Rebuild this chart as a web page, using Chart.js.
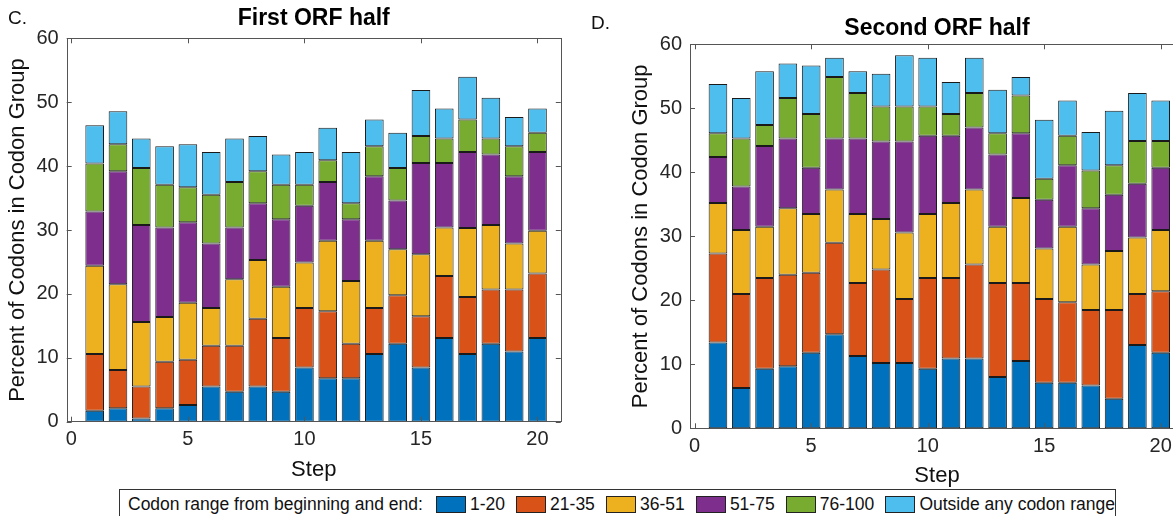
<!DOCTYPE html>
<html>
<head>
<meta charset="utf-8">
<title>Codon group composition by step</title>
<script src="https://cdn.jsdelivr.net/npm/chart.js@4.4.1/dist/chart.umd.min.js"></script>
<style>
  html, body { margin: 0; padding: 0; background: #fff; overflow: hidden; }
  #wrap {
    position: relative; width: 1173px; height: 516px; overflow: hidden;
    font-family: "Liberation Sans", Arial, sans-serif; color: #111;
  }
  .panel { position: absolute; top: 0; }
  #panelC { left: 0; }
  #panelD { left: 623px; }
  .tag { position: absolute; font-size: 19px; color: #111; }
  #legend {
    position: absolute; left: 119px; top: 489px; width: 997px; height: 30px;
    border: 1px solid #333; box-sizing: border-box; background: #fff;
    display: flex; align-items: center; padding-left: 8px;
    font-size: 17.5px; white-space: nowrap; color: #111;
  }
  #legend .sw {
    display: inline-block; width: 29px; height: 15px; border: 1px solid #222;
    margin: 0 4px 0 11px;
  }
  #legend .lead { margin-right: 2px; }
</style>
</head>
<body>
<div id="wrap">
  <canvas id="panelC" class="panel" width="600" height="490"></canvas>
  <canvas id="panelD" class="panel" width="600" height="490"></canvas>
  <div class="tag" style="left:8px; top:7px;">C.</div>
  <div class="tag" style="left:591px; top:12px;">D.</div>
  <div id="legend"></div>
</div>

<script>
/* ── data ─────────────────────────────────────────────────────── */
const steps  = [1, 2, 3, 4, 5, 6, 7, 8, 9, 10, 11, 12, 13, 14, 15, 16, 17, 18, 19, 20];
const xTicks = [0, 5, 10, 15, 20];
const yTicks = [0, 10, 20, 30, 40, 50, 60];

const seriesLabels = ["1-20", "21-35", "36-51", "51-75", "76-100", "Outside any codon range"];
const seriesColors = ["#0072BD", "#D95319", "#EDB120", "#7E2F8E", "#77AC30", "#4DBEEE"];

// first ORF half, percent per codon group
const first1to20    = [1.7, 2.1, 0.5, 2.1, 2.6, 5.5, 4.7, 5.5, 4.7, 8.5, 6.8, 6.8, 10.6, 12.2, 8.5, 13.1, 10.6, 12.2, 11.0, 13.1];
const first21to35   = [8.9, 6.0, 5.0, 7.3, 7.1, 6.4, 7.2, 10.6, 8.4, 9.3, 10.5, 5.4, 7.2, 7.6, 8.0, 9.7, 8.9, 8.5, 9.7, 10.1];
const first36to51   = [13.8, 13.4, 10.1, 7.0, 8.9, 5.9, 10.4, 9.2, 8.0, 7.1, 11.0, 9.8, 10.5, 7.2, 9.7, 7.6, 10.8, 10.1, 7.2, 6.7];
const first51to75   = [8.5, 17.7, 15.2, 14.0, 12.6, 10.1, 8.1, 8.9, 10.6, 8.9, 9.2, 9.7, 10.1, 7.6, 14.3, 10.1, 11.9, 11.0, 10.5, 12.3];
const first76to100  = [7.5, 4.2, 8.9, 6.7, 5.5, 7.6, 7.1, 5.0, 5.4, 3.3, 3.4, 2.5, 4.7, 5.1, 4.2, 3.8, 5.1, 2.5, 4.7, 3.0];
const firstOutside  = [6.0, 5.2, 4.6, 6.0, 6.7, 6.7, 6.8, 5.5, 4.7, 5.1, 5.1, 8.0, 4.2, 5.5, 7.2, 4.7, 6.7, 6.4, 4.6, 3.8];

// second ORF half
const second1to20   = [13.4, 6.3, 9.3, 9.7, 11.8, 14.7, 11.3, 10.2, 10.2, 9.3, 10.9, 10.9, 8.0, 10.5, 7.1, 7.1, 6.7, 4.6, 13.0, 11.8];
const second21to35  = [13.9, 14.7, 14.2, 14.3, 12.5, 14.3, 11.4, 14.6, 10.0, 14.2, 12.6, 14.7, 14.7, 12.2, 13.1, 12.6, 11.8, 13.9, 8.0, 9.6];
const second36to51  = [7.9, 10.0, 8.0, 10.4, 9.2, 8.3, 10.8, 7.9, 10.4, 10.0, 11.7, 11.7, 8.8, 13.3, 7.9, 11.8, 7.1, 9.2, 8.8, 9.6];
const second51to75  = [7.2, 6.8, 12.6, 10.9, 7.2, 8.0, 11.8, 12.1, 14.2, 12.2, 10.5, 9.7, 11.3, 10.1, 7.6, 9.6, 8.8, 8.8, 8.4, 9.7];
const second76to100 = [3.7, 7.5, 3.3, 6.3, 8.4, 9.6, 7.1, 5.5, 5.5, 4.6, 3.4, 5.4, 3.3, 5.9, 3.3, 4.6, 5.9, 4.6, 6.7, 4.2];
const secondOutside = [7.7, 6.3, 8.4, 5.4, 7.6, 3.0, 3.4, 5.1, 8.0, 7.6, 5.0, 5.5, 6.8, 2.9, 9.2, 5.5, 6.0, 8.5, 7.5, 6.3];

const FONT = "'Liberation Sans', Arial, sans-serif";
const INK  = "#262626";

/* ── box around the axes with inward ticks on all four sides ── */
const axesBox = {
  id: "axesBox",
  afterDatasetsDraw(chart) {
    const { ctx, chartArea: a, scales: { x, y } } = chart;
    const len = 5;
    ctx.save();
    ctx.strokeStyle = "#555";
    ctx.lineWidth = 1;
    ctx.strokeRect(Math.round(a.left) + 0.5, Math.round(a.top) + 0.5,
                   Math.round(a.right - a.left), Math.round(a.bottom - a.top));
    ctx.beginPath();
    xTicks.forEach(v => {
      const px = Math.round(x.getPixelForValue(v)) + 0.5;
      ctx.moveTo(px, a.bottom); ctx.lineTo(px, a.bottom - len);
      ctx.moveTo(px, a.top);    ctx.lineTo(px, a.top + len);
    });
    yTicks.forEach(v => {
      const py = Math.round(y.getPixelForValue(v)) + 0.5;
      ctx.moveTo(a.left, py);  ctx.lineTo(a.left + len, py);
      ctx.moveTo(a.right, py); ctx.lineTo(a.right - len, py);
    });
    ctx.stroke();
    ctx.restore();
  }
};

/* ── bold title centred over the plot area ── */
const panelTitle = {
  id: "panelTitle",
  afterDraw(chart, args, opts) {
    const { ctx, chartArea: a } = chart;
    ctx.save();
    ctx.font = "bold 23px " + FONT;
    ctx.fillStyle = "#000";
    ctx.textAlign = "center";
    ctx.textBaseline = "middle";
    ctx.fillText(opts.text, (a.left + a.right) / 2, opts.y);
    ctx.restore();
  }
};

function makeDatasets(series) {
  return series.map((vals, i) => ({
    label: seriesLabels[i],
    data: steps.map((s, k) => ({ x: s, y: vals[k] })),
    backgroundColor: seriesColors[i],
    borderColor: "#1a1a1a",
    borderWidth: 1,
    borderSkipped: false,
    barPercentage: 0.8,
    categoryPercentage: 1.0
  }));
}

function makeChart(id, series, cfg) {
  return new Chart(document.getElementById(id), {
    type: "bar",
    data: { datasets: makeDatasets(series) },
    plugins: [axesBox, panelTitle],
    options: {
      responsive: false,
      animation: false,
      layout: { padding: { top: cfg.top, right: cfg.right, left: 0, bottom: 0 } },
      plugins: {
        legend: { display: false },
        tooltip: { enabled: false },
        panelTitle: { text: cfg.title, y: cfg.titleY }
      },
      scales: {
        x: {
          type: "linear",
          stacked: true,
          offset: false,
          min: -0.2,
          max: 21,
          grid: { display: false, drawTicks: false },
          border: { display: false },
          afterBuildTicks: s => { s.ticks = xTicks.map(v => ({ value: v })); },
          afterFit: s => { s.height = cfg.xHeight; },
          ticks: { font: { family: FONT, size: 20 }, color: INK, padding: 6, maxRotation: 0 },
          title: {
            display: true, text: "Step", color: "#111",
            font: { family: FONT, size: 22 },
            padding: { top: 0, bottom: cfg.stepPad }
          }
        },
        y: {
          stacked: true,
          min: 0,
          max: 60,
          grid: { display: false, drawTicks: false },
          border: { display: false },
          afterBuildTicks: s => { s.ticks = yTicks.map(v => ({ value: v })); },
          afterFit: s => { s.width = cfg.yWidth; },
          ticks: { font: { family: FONT, size: 20 }, color: INK, padding: 8 },
          title: {
            display: true, text: "Percent of Codons in Codon Group", color: "#111",
            font: { family: FONT, size: 22 },
            padding: { top: 5, bottom: 0 }
          }
        }
      }
    }
  });
}

makeChart("panelC",
  [first1to20, first21to35, first36to51, first51to75, first76to100, firstOutside],
  { title: "First ORF half", titleY: 19, top: 38.3, right: 39.2, xHeight: 68.3, yWidth: 66.7, stepPad: 7 });

makeChart("panelD",
  [second1to20, second21to35, second36to51, second51to75, second76to100, secondOutside],
  { title: "Second ORF half", titleY: 29, top: 44.3, right: 39, xHeight: 61.7, yWidth: 67, stepPad: 1 });

/* ── shared legend ── */
const legend = document.getElementById("legend");
legend.innerHTML = '<span class="lead">Codon range from beginning and end:</span>' +
  seriesLabels.map((lab, i) =>
    `<span class="sw" style="background:${seriesColors[i]}"></span><span>${lab}</span>`
  ).join("");
</script>
</body>
</html>
